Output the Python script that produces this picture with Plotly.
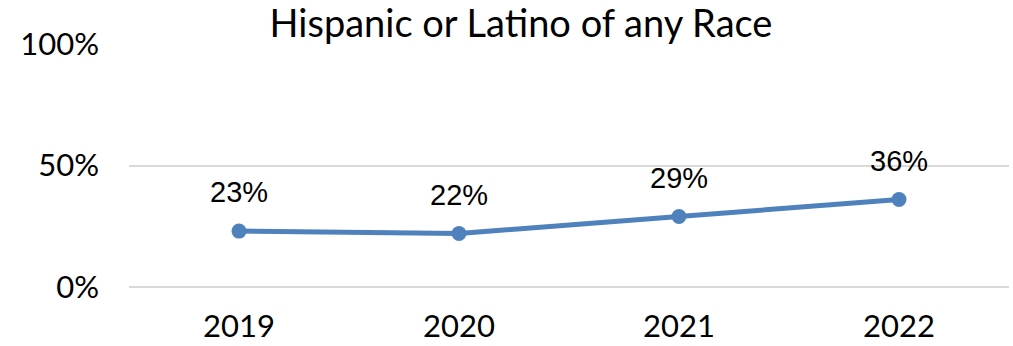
import plotly.graph_objects as go

years = ["2019", "2020", "2021", "2022"]
values = [0.23, 0.22, 0.29, 0.36]
labels = ["23%", "22%", "29%", "36%"]
ytick_vals = [0, 0.5, 1.0]
ytick_text = ["0%", "50%", "100%"]

xpos = list(range(len(years)))

fig = go.Figure()
fig.add_trace(go.Scatter(
    x=xpos, y=values, mode="lines+markers",
    line=dict(color="#4F81BD", width=5),
    marker=dict(color="#4F81BD", size=15),
    hoverinfo="skip",
))
for x, y, t in zip(xpos, values, labels):
    fig.add_annotation(x=x, y=y, text=t, showarrow=False, yshift=39,
                       font=dict(family="Liberation Sans, Arial", size=29, color="#000000"))

fig.update_layout(
    width=1013, height=346,
    margin=dict(l=129, r=4, t=44, b=59),
    paper_bgcolor="white", plot_bgcolor="white",
    showlegend=False,
    title=dict(text="Hispanic or Latino of any Race", x=521/1013, xanchor="center",
               y=1 - 24/346, yanchor="middle",
               font=dict(family="Lato", size=38, color="#000000")),
    font=dict(family="Lato", size=31, color="#000000"),
)
fig.update_xaxes(range=[-0.5, len(years) - 0.5], tickvals=xpos, ticktext=years,
                 showgrid=False, showline=False, zeroline=False, ticks="",
                 automargin=False,
                 ticklabelstandoff=18, tickfont=dict(family="Lato", size=31))
fig.update_yaxes(range=[0, 1.0], tickvals=ytick_vals, ticktext=ytick_text,
                 showgrid=True, gridcolor="#D9D9D9", gridwidth=2,
                 zeroline=True, zerolinecolor="#D9D9D9", zerolinewidth=2,
                 showline=False, ticks="", ticklabelstandoff=29, automargin=False,
                 tickfont=dict(family="Lato", size=31))
fig.write_html("out.html")
